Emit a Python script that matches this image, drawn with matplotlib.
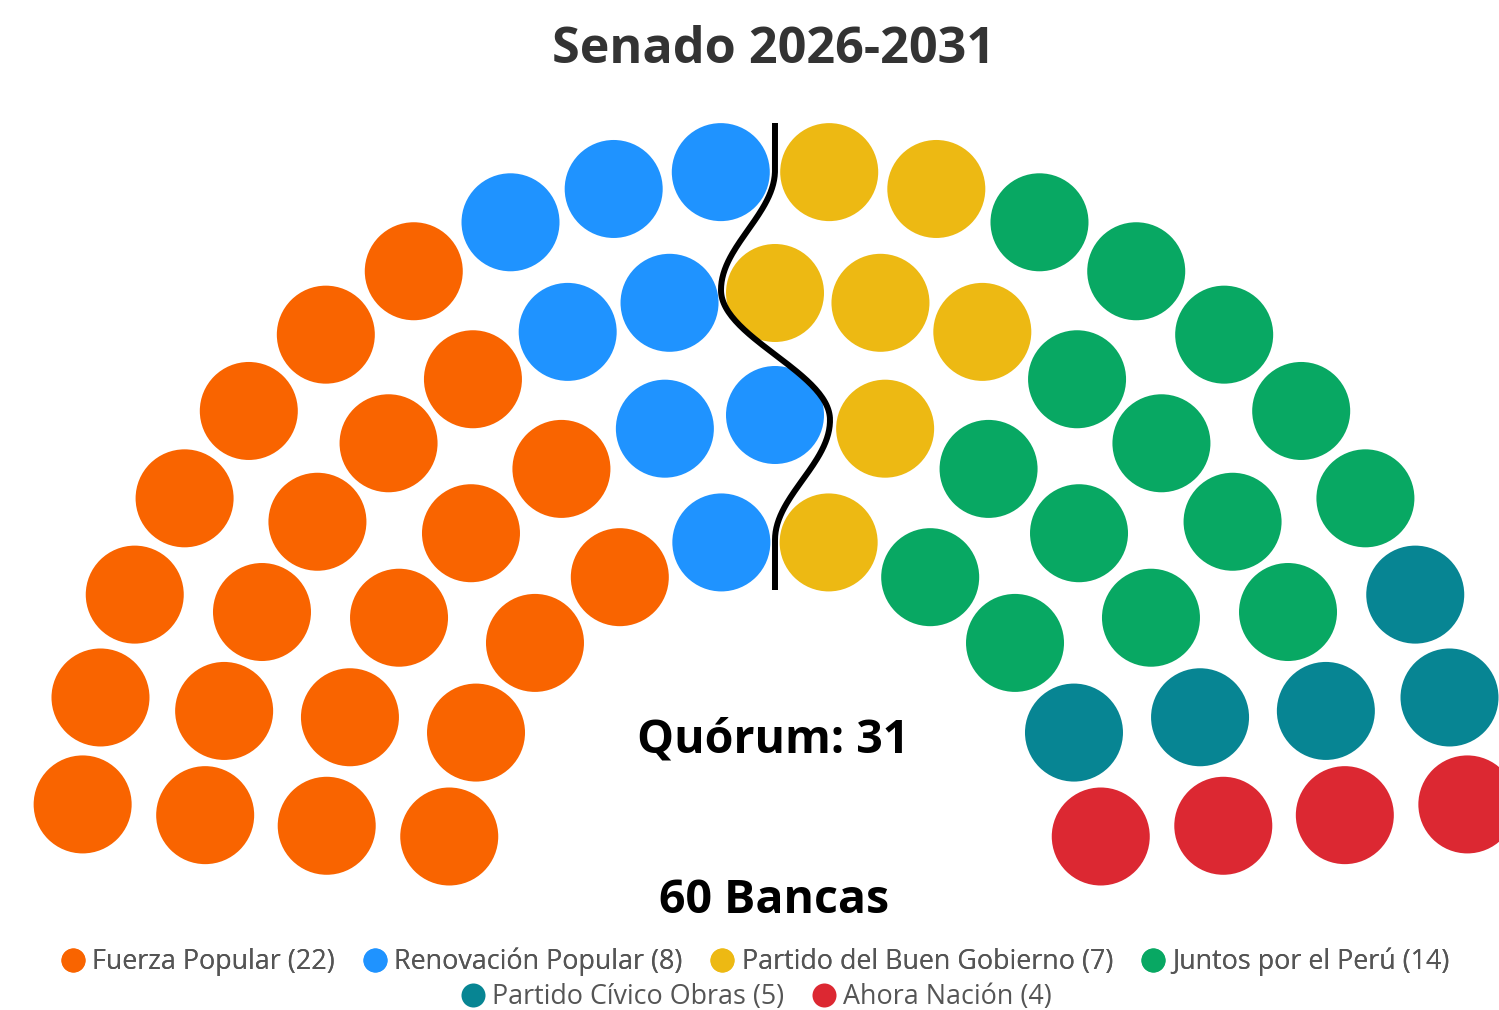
import matplotlib.pyplot as plt
import numpy as np
from matplotlib.lines import Line2D
from matplotlib.patches import Circle

# Party data (order = left to right in the hemicycle)
parties = [
    "Fuerza Popular",
    "Renovación Popular",
    "Partido del Buen Gobierno",
    "Juntos por el Perú",
    "Partido Cívico Obras",
    "Ahora Nación",
]
seats = [22, 8, 7, 14, 5, 4]
colors = ["#F96400", "#1F93FF", "#EDB913", "#08A863", "#078593", "#DC2832"]

# Hemicycle layout: seats per row, outermost first
seats_per_row = [20, 17, 13, 10]

title = "Senado 2026-2031"
quorum_label = "Quórum: 31"
total_label = "60 Bancas"

# Geometry in pixel space (canvas 1499 x 1010)
W, H = 1499, 1010
cx, cy = 775, 865
row_radii = [695, 572, 450, 327]
seat_r = 49
ang_min, ang_max = 5, 175

fig = plt.figure(figsize=(W / 100, H / 100), dpi=100)
ax = fig.add_axes([0, 0, 1, 1])
ax.set_xlim(0, W)
ax.set_ylim(H, 0)
ax.axis("off")

# Build all seat positions, then sort by angle (left to right)
slots = []
for n, r in zip(seats_per_row, row_radii):
    for a in np.linspace(ang_max, ang_min, n):
        slots.append((round(a, 4), r))
slots.sort(key=lambda s: (-s[0], s[1]))

seat_colors = []
for c, n in zip(colors, seats):
    seat_colors += [c] * n

for (a, r), c in zip(slots, seat_colors):
    t = np.radians(a)
    x = cx + r * np.cos(t)
    y = cy - r * np.sin(t)
    ax.add_patch(Circle((x, y), seat_r, facecolor=c, edgecolor="none", zorder=2))

# Wavy majority divider
knots_y = [123, 170, 290, 420, 540, 590]
knots_dx = [0, 0, -54, 55, 0, 0]
ys, xs = [], []
for i in range(len(knots_y) - 1):
    tt = np.linspace(0, 1, 60)
    s = (1 - np.cos(np.pi * tt)) / 2
    ys.append(knots_y[i] + (knots_y[i + 1] - knots_y[i]) * tt)
    xs.append(knots_dx[i] + (knots_dx[i + 1] - knots_dx[i]) * s)
ax.plot(cx + np.concatenate(xs), np.concatenate(ys), color="black", lw=4.3,
        solid_capstyle="butt", zorder=3)

# Texts
ax.text(774, 63, title, ha="center", va="baseline", fontsize=36.3,
        fontweight="bold", family="Open Sans", color="#333333")
ax.text(773, 753, quorum_label, ha="center", va="baseline", fontsize=33.5,
        fontweight="bold", family="Open Sans", color="black")
ax.text(774, 913, total_label, ha="center", va="baseline", fontsize=33.5,
        fontweight="bold", family="Open Sans", color="black")

# Legend (two centred rows)
handles = [
    Line2D([], [], marker="o", ls="", markersize=17.3, markerfacecolor=c,
           markeredgewidth=0)
    for c in colors
]
labels = [f"{p} ({n})" for p, n in zip(parties, seats)]
leg_kw = dict(frameon=False, handlelength=0.95, handletextpad=0.25,
              columnspacing=1.0, borderpad=0, borderaxespad=0,
              labelcolor="#555555",
              prop={"family": "Open Sans", "size": 19.4})
leg1 = fig.legend(handles[:4], labels[:4], ncol=4, loc="center",
                  bbox_to_anchor=(755 / W, 1 - 962 / H), **leg_kw)
fig.legend(handles[4:], labels[4:], ncol=2, loc="center",
           bbox_to_anchor=(756 / W, 1 - 997 / H), **leg_kw)
fig.add_artist(leg1)

fig.savefig("out.png", dpi=100, facecolor="white")
